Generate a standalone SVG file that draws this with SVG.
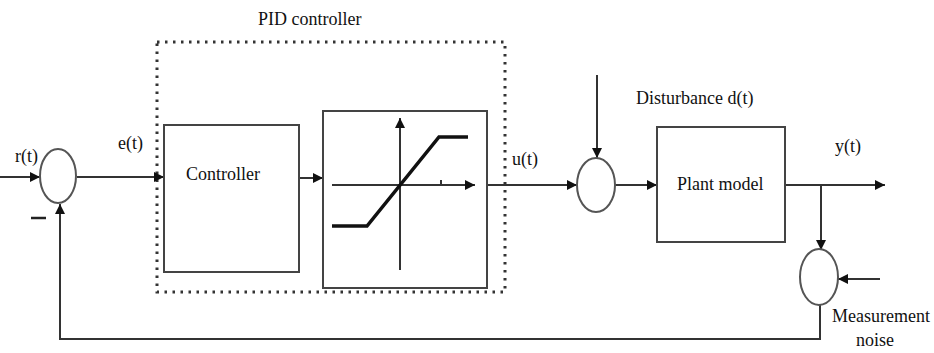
<svg xmlns="http://www.w3.org/2000/svg" width="934" height="353" viewBox="0 0 934 353">
<defs>
<marker id="arr" viewBox="0 0 10 10" refX="10" refY="5" markerWidth="10" markerHeight="10" markerUnits="userSpaceOnUse" orient="auto">
<path d="M0,0 L10,5 L0,10 z" fill="#111"/>
</marker>
<style>
.ln{stroke:#333;stroke-width:2;fill:none}
.bx{stroke:#444;stroke-width:2;fill:#fff}
.sj{stroke:#555;stroke-width:2;fill:#fff}
text{font-family:'Liberation Serif','Times New Roman',Times,serif;font-size:18px;fill:#111}
</style>
</defs>
<rect width="934" height="353" fill="#fff"/>
<g id="pid-boundary">
<rect x="157" y="42" width="348" height="250" fill="none" stroke="#333" stroke-width="3" stroke-dasharray="2.5 5.5"/>
<text x="258" y="25" font-family="Liberation Serif, serif">PID controller</text>
</g>
<g id="connectors">
<line class="ln" x1="0" y1="177" x2="40" y2="177" marker-end="url(#arr)"/>
<line class="ln" x1="77" y1="177" x2="164" y2="177" marker-end="url(#arr)"/>
<line class="ln" x1="299" y1="178" x2="323" y2="178" marker-end="url(#arr)"/>
<line class="ln" x1="487" y1="185" x2="577" y2="185" marker-end="url(#arr)"/>
<line class="ln" x1="597" y1="75" x2="597" y2="158" marker-end="url(#arr)"/>
<line class="ln" x1="615" y1="185" x2="657" y2="185" marker-end="url(#arr)"/>
<line class="ln" x1="785" y1="185" x2="885" y2="185" marker-end="url(#arr)"/>
<line class="ln" x1="821" y1="185" x2="821" y2="250" marker-end="url(#arr)"/>
<line class="ln" x1="880" y1="279" x2="838" y2="279" marker-end="url(#arr)"/>
<polyline class="ln" points="820,305 820,339 60,339 60,204" marker-end="url(#arr)"/>
</g>
<g id="sum1">
<ellipse class="sj" cx="58" cy="176" rx="18" ry="27"/>
<text x="15" y="162" font-family="Liberation Serif, serif">r(t)</text>
<line x1="31" y1="218" x2="46" y2="218" stroke="#222" stroke-width="2.5"/>
</g>
<text x="118" y="149" font-family="Liberation Serif, serif">e(t)</text>
<g id="controller">
<rect class="bx" x="164" y="125" width="135" height="147"/>
<text x="186" y="180" font-family="Liberation Serif, serif">Controller</text>
</g>
<g id="saturation">
<rect class="bx" x="323" y="111" width="164" height="177"/>
<line class="ln" x1="332" y1="185" x2="475" y2="185" marker-end="url(#arr)"/>
<line class="ln" x1="400" y1="270" x2="400" y2="118" marker-end="url(#arr)"/>
<line class="ln" x1="441" y1="180" x2="441" y2="185" stroke-width="1.5"/>
<polyline points="332,226 367,226 439,137 468,137" fill="none" stroke="#111" stroke-width="3.5"/>
</g>
<text x="512" y="165" font-family="Liberation Serif, serif">u(t)</text>
<g id="sum2">
<ellipse class="sj" cx="596" cy="185" rx="19" ry="27"/>
</g>
<text x="636" y="104" font-family="Liberation Serif, serif">Disturbance d(t)</text>
<g id="plant">
<rect class="bx" x="657" y="127" width="128" height="115"/>
<text x="677" y="190" font-family="Liberation Serif, serif">Plant model</text>
</g>
<text x="835" y="152" font-family="Liberation Serif, serif">y(t)</text>
<g id="sum3">
<ellipse class="sj" cx="819" cy="277" rx="19" ry="28"/>
<text x="832" y="322" font-family="Liberation Serif, serif">Measurement</text>
<text x="856" y="346" font-family="Liberation Serif, serif">noise</text>
</g>
</svg>
